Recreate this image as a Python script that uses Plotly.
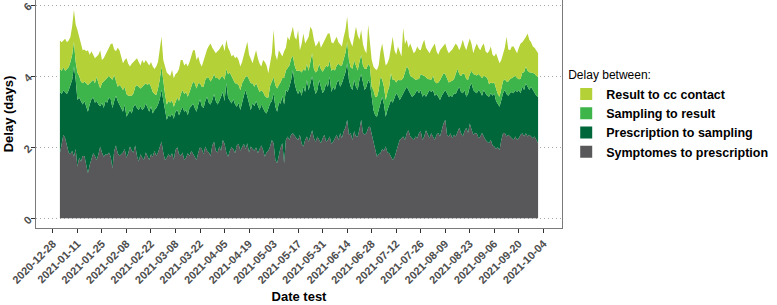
import pandas as pd
import plotly.graph_objects as go

# ---------------- data (daily means, 2021-01-01 .. 2021-10-01) ----------------
START_DATE = "2021-01-01"

symptomes_to_prescription = [
    1.83, 2.05, 2.35, 2.25, 2.00, 1.85, 1.80,
    1.90, 1.73, 1.95, 1.45, 1.70, 1.60, 1.75,
    1.75, 1.55, 1.27, 1.50, 1.70, 1.83, 1.75,
    1.64, 1.80, 2.02, 1.85, 1.73, 1.80, 1.78,
    1.85, 1.73, 1.40, 1.90, 2.05, 1.83, 1.75,
    1.80, 1.85, 1.95, 1.70, 1.83, 2.02, 1.90,
    1.85, 2.05, 1.75, 1.60, 1.80, 1.70, 1.65,
    1.85, 1.75, 1.64, 1.80, 1.73, 1.90, 1.75,
    1.85, 2.00, 2.15, 1.85, 1.64, 1.70, 1.80,
    1.73, 1.83, 1.65, 1.92, 2.00, 1.80, 1.75,
    1.85, 1.64, 1.70, 1.83, 1.75, 1.90, 1.80,
    1.70, 1.64, 1.85, 2.00, 1.95, 1.80, 2.02,
    1.90, 1.85, 1.75, 2.05, 2.15, 1.90, 1.85,
    2.02, 1.90, 2.20, 2.10, 1.85, 1.73, 1.90,
    2.00, 1.95, 1.83, 2.05, 2.10, 1.90, 2.02,
    2.10, 1.95, 2.11, 1.85, 2.02, 1.95, 1.90,
    2.00, 1.83, 1.95, 2.05, 1.92, 1.73, 1.85,
    1.90, 2.02, 2.20, 2.11, 1.64, 1.55, 1.80,
    2.00, 2.11, 1.55, 2.20, 2.30, 2.20, 2.35,
    2.39, 2.30, 2.25, 2.20, 2.35, 2.10, 2.02,
    2.20, 2.30, 2.15, 2.35, 2.48, 2.25, 2.15,
    2.30, 2.20, 2.11, 2.25, 2.35, 2.15, 2.20,
    2.30, 2.10, 2.15, 2.25, 2.35, 2.20, 2.39,
    2.25, 2.45, 2.55, 2.77, 2.35, 2.40, 2.20,
    2.45, 2.30, 2.30, 2.50, 2.77, 2.40, 2.35,
    2.40, 2.55, 2.58, 2.35, 2.11, 1.90, 1.73,
    1.80, 1.83, 1.95, 1.90, 2.02, 1.85, 1.83,
    1.75, 1.64, 1.70, 1.90, 2.05, 2.20, 2.25,
    2.30, 2.20, 2.39, 2.48, 2.30, 2.25, 2.20,
    2.30, 2.25, 2.39, 2.45, 2.20, 2.30, 2.48,
    2.35, 2.25, 2.39, 2.30, 2.20, 2.35, 2.40,
    2.30, 2.50, 2.67, 2.77, 2.35, 2.30, 2.39,
    2.25, 2.35, 2.30, 2.45, 2.55, 2.39, 2.30,
    2.45, 2.55, 2.40, 2.67, 2.50, 2.35, 2.39,
    2.39, 2.25, 2.30, 2.40, 2.30, 2.20, 2.15,
    2.11, 2.20, 2.05, 2.02, 1.95, 2.00, 1.92,
    2.20, 2.39, 2.40, 2.30, 2.35, 2.30, 2.25,
    2.20, 2.30, 2.20, 2.25, 2.35, 2.39, 2.30,
    2.39, 2.30, 2.35, 2.30, 2.25, 2.30, 2.20,
    2.11,
]

prescription_to_sampling = [
    1.72, 1.45, 1.25, 1.30, 1.50, 1.75, 1.95,
    2.00, 2.54, 1.95, 1.88, 1.70, 1.70, 1.45,
    1.55, 1.60, 1.73, 1.70, 1.65, 1.57, 1.50,
    1.66, 1.40, 1.13, 1.40, 1.37, 1.50, 1.47,
    1.55, 1.62, 1.70, 1.40, 1.40, 1.47, 1.45,
    1.30, 1.15, 1.25, 1.16, 1.12, 1.03, 1.05,
    1.29, 1.15, 1.35, 1.45, 1.35, 1.35, 1.45,
    1.38, 1.35, 1.36, 1.35, 1.22, 1.15, 1.35,
    1.35, 1.35, 1.46, 1.45, 1.36, 1.07, 1.10,
    1.13, 1.12, 1.15, 1.08, 1.05, 1.10, 1.30,
    1.29, 1.36, 1.35, 1.07, 1.35, 1.25, 1.43,
    1.40, 1.36, 1.35, 1.35, 1.20, 1.30, 1.28,
    1.52, 1.40, 1.45, 1.28, 1.35, 1.40, 1.35,
    1.28, 1.52, 1.35, 1.20, 1.95, 1.67, 1.40,
    1.23, 1.40, 1.37, 1.09, 1.15, 1.15, 1.28,
    1.35, 1.66, 1.29, 1.35, 1.03, 1.30, 1.25,
    1.30, 1.31, 1.10, 1.15, 1.18, 1.27, 1.10,
    1.20, 1.21, 1.10, 1.41, 1.50, 1.45, 1.45,
    1.23, 1.34, 1.65, 1.41, 1.25, 1.50, 1.54,
    1.78, 1.50, 1.35, 1.30, 1.26, 1.35, 1.68,
    1.35, 1.59, 1.45, 1.45, 1.52, 1.45, 1.35,
    1.31, 1.69, 1.59, 1.27, 1.26, 1.65, 1.50,
    1.68, 1.45, 1.55, 1.36, 1.45, 1.70, 1.31,
    1.55, 1.53, 1.55, 1.59, 1.55, 1.30, 1.41,
    1.44, 1.40, 1.31, 1.40, 1.28, 1.40, 1.26,
    1.30, 1.34, 1.22, 1.05, 0.94, 1.00, 1.13,
    1.25, 1.42, 1.47, 1.30, 0.84, 1.20, 1.37,
    1.58, 1.61, 1.70, 1.62, 1.40, 1.13, 1.17,
    1.20, 1.41, 1.31, 1.13, 1.20, 1.17, 1.25,
    1.25, 1.36, 1.13, 1.16, 1.22, 1.20, 0.94,
    1.17, 1.36, 1.16, 1.31, 1.25, 1.15, 1.02,
    1.03, 0.95, 0.85, 0.84, 1.17, 1.12, 1.06,
    1.17, 1.17, 1.20, 1.16, 1.15, 1.16, 1.22,
    1.16, 0.87, 1.10, 1.03, 1.30, 1.26, 1.16,
    1.13, 1.36, 1.25, 1.05, 1.31, 1.32, 1.30,
    1.31, 1.32, 1.40, 1.50, 1.35, 1.20, 1.22,
    1.13, 1.13, 1.21, 1.20, 1.10, 1.22, 1.30,
    1.32, 1.31, 1.35, 1.36, 1.17, 1.31, 1.31,
    1.41, 1.40, 1.26, 1.40, 1.36, 1.22, 1.25,
    1.31,
]

sampling_to_result = [
    0.65, 0.65, 0.65, 0.60, 0.70, 0.65, 0.65,
    0.70, 0.70, 0.50, 0.77, 0.60, 0.55, 0.60,
    0.55, 0.65, 0.75, 0.60, 0.50, 0.50, 0.55,
    0.68, 0.60, 0.51, 0.55, 0.75, 0.59, 0.70,
    0.60, 0.60, 0.80, 0.73, 0.40, 0.40, 0.55,
    0.60, 0.61, 0.50, 0.64, 0.50, 0.40, 0.50,
    0.38, 0.50, 0.65, 0.65, 0.50, 0.65, 0.65,
    0.57, 0.65, 0.80, 0.55, 0.60, 0.45, 0.37,
    0.45, 0.55, 0.66, 0.55, 0.50, 0.43, 0.40,
    0.39, 0.38, 0.34, 0.30, 0.35, 0.40, 0.45,
    0.47, 0.50, 0.50, 0.52, 0.45, 0.55, 0.62,
    0.70, 0.65, 0.60, 0.45, 0.55, 0.60, 0.60,
    0.55, 0.70, 0.65, 0.60, 0.55, 0.65, 0.75,
    0.60, 0.55, 0.45, 0.60, 0.40, 0.65, 0.80,
    0.75, 0.55, 0.60, 0.65, 0.50, 0.56, 0.50,
    0.45, 0.37, 0.60, 0.70, 0.75, 0.55, 0.55,
    0.50, 0.55, 0.50, 0.40, 0.45, 0.45, 0.45,
    0.30, 0.50, 0.55, 0.45, 0.60, 0.65, 0.50,
    0.60, 0.50, 0.75, 0.55, 0.70, 0.60, 0.60,
    0.40, 0.50, 0.55, 0.65, 0.55, 0.65, 0.50,
    0.60, 0.45, 0.55, 0.60, 0.65, 0.50, 0.60,
    0.55, 0.45, 0.50, 0.60, 0.60, 0.50, 0.55,
    0.45, 0.60, 0.50, 0.55, 0.50, 0.45, 0.60,
    0.50, 0.50, 0.55, 0.60, 0.55, 0.55, 0.60,
    0.55, 0.60, 0.55, 0.50, 0.55, 0.50, 0.60,
    0.50, 0.45, 0.47, 0.30, 0.56, 0.52, 0.56,
    0.55, 0.73, 0.48, 0.50, 0.47, 0.50, 0.50,
    0.75, 0.65, 0.50, 0.30, 0.45, 0.55, 0.47,
    0.45, 0.50, 0.57, 0.60, 0.50, 0.56, 0.50,
    0.35, 0.30, 0.40, 0.45, 0.60, 0.50, 0.55,
    0.40, 0.30, 0.35, 0.40, 0.40, 0.30, 0.40,
    0.55, 0.55, 0.56, 0.45, 0.40, 0.40, 0.40,
    0.45, 0.40, 0.55, 0.60, 0.35, 0.45, 0.55,
    0.45, 0.50, 0.40, 0.35, 0.35, 0.45, 0.50,
    0.50, 0.45, 0.45, 0.50, 0.40, 0.45, 0.50,
    0.35, 0.30, 0.35, 0.30, 0.35, 0.30, 0.28,
    0.30, 0.35, 0.30, 0.35, 0.40, 0.40, 0.40,
    0.45, 0.40, 0.40, 0.30, 0.40, 0.40, 0.50,
    0.47, 0.45, 0.50, 0.40, 0.47, 0.55, 0.55,
    0.56,
]

result_to_cc_contact = [
    0.80, 0.80, 0.75, 0.90, 0.75, 0.75, 0.70,
    0.80, 0.89, 1.05, 1.20, 1.10, 1.00, 0.93,
    0.90, 0.90, 0.98, 0.80, 0.85, 0.72, 0.70,
    0.57, 0.80, 1.07, 0.65, 0.65, 0.73, 0.75,
    0.80, 0.95, 1.02, 0.72, 0.85, 1.10, 0.98,
    0.80, 0.75, 0.75, 1.00, 0.90, 0.82, 0.90,
    0.88, 0.75, 0.75, 0.70, 0.65, 0.75, 0.61,
    0.65, 0.61, 0.50, 0.70, 0.72, 0.70, 0.80,
    0.75, 0.80, 0.84, 0.60, 0.80, 0.90, 0.75,
    0.75, 0.84, 0.80, 0.75, 0.70, 0.90, 0.95,
    0.84, 0.80, 0.81, 0.85, 0.85, 0.85, 0.88,
    0.93, 0.80, 0.75, 0.56, 0.57, 0.75, 0.74,
    0.78, 0.90, 1.07, 0.87, 0.68, 0.69, 0.75,
    0.85, 0.86, 0.90, 0.80, 0.82, 0.75, 0.60,
    0.57, 0.70, 0.70, 0.76, 0.70, 0.66, 0.60,
    0.70, 0.82, 0.97, 0.70, 0.65, 0.56, 0.85,
    0.93, 0.81, 0.80, 0.67, 0.90, 0.95, 0.90,
    0.68, 0.67, 0.79, 1.33, 0.86, 0.80, 0.98,
    0.81, 0.60, 0.75, 0.64, 0.86, 0.70, 0.71,
    0.82, 0.80, 0.87, 1.15, 0.57, 0.80, 1.00,
    0.77, 0.66, 0.95, 0.99, 0.65, 0.82, 0.73,
    0.74, 0.66, 0.60, 0.78, 0.81, 0.80, 0.95,
    0.77, 0.80, 0.72, 0.86, 0.81, 0.60, 0.60,
    0.53, 0.62, 0.65, 0.71, 0.66, 0.70, 0.62,
    0.66, 1.09, 0.99, 0.62, 0.70, 0.60, 0.52,
    0.44, 1.10, 0.63, 0.75, 0.66, 0.78, 0.75,
    0.70, 0.72, 1.02, 0.90, 0.97, 0.81, 0.80,
    0.72, 1.21, 0.83, 0.78, 0.93, 0.82, 0.66,
    1.40, 0.79, 0.75, 0.59, 0.92, 0.77, 0.69,
    0.80, 0.92, 0.83, 0.67, 0.88, 1.02, 0.83,
    0.78, 0.73, 0.85, 0.82, 1.07, 0.90, 0.78,
    0.85, 0.80, 0.77, 0.86, 0.83, 0.82, 0.85,
    0.88, 0.91, 0.87, 0.64, 0.68, 0.85, 0.95,
    0.79, 0.81, 1.00, 1.01, 0.75, 0.58, 0.75,
    0.90, 0.74, 0.73, 0.90, 0.91, 0.73, 0.69,
    0.93, 1.01, 0.80, 0.73, 0.99, 1.00, 0.94,
    0.82, 0.77, 0.89, 1.26, 0.90, 0.81, 0.88,
    0.86, 0.74, 0.69, 0.89, 1.00, 0.85, 0.91,
    0.83, 1.05, 0.91, 0.85, 0.75, 0.73, 0.73,
    0.66,
]

series_names = ["Symptomes to prescription", "Prescription to sampling",
                "Sampling to result", "Result to cc contact"]
series_values = [symptomes_to_prescription, prescription_to_sampling,
                 sampling_to_result, result_to_cc_contact]
series_colors = ["#58585A", "#00673A", "#3DB54A", "#B4D137"]

dates = pd.date_range(START_DATE, periods=len(symptomes_to_prescription), freq="D")

# ---------------- figure ----------------
FONT = "Liberation Sans, Arial, Helvetica, sans-serif"
fig = go.Figure()

for name, vals, col in zip(series_names, series_values, series_colors):
    fig.add_trace(go.Scatter(
        x=dates, y=vals, stackgroup="delay", mode="lines",
        line=dict(width=0, color=col), fillcolor=col,
        name=name, showlegend=False, hoverinfo="skip"))

# legend keys (square swatches), top item = top layer
for name, col in reversed(list(zip(series_names, series_colors))):
    fig.add_trace(go.Scatter(
        x=[None], y=[None], mode="markers", name=name,
        marker=dict(symbol="square", size=17, color=col),
        showlegend=True, hoverinfo="skip"))

fig.update_layout(
    width=777, height=305,
    margin=dict(l=36, r=215, t=0, b=77, autoexpand=False),
    plot_bgcolor="white", paper_bgcolor="white",
    font=dict(family=FONT, color="#000000"),
    showlegend=True,
    legend=dict(
        title=dict(text="Delay between:",
                   font=dict(size=12, family=FONT, color="#000000", weight="normal")),
        font=dict(size=12.5, family=FONT, color="#000000", weight="bold"),
        x=1.008, xanchor="left", y=0.72, yanchor="top",
        traceorder="normal", itemsizing="constant",
        bgcolor="rgba(0,0,0,0)", borderwidth=0, tracegroupgap=0),
    xaxis=dict(
        type="date", automargin=False,
        range=["2020-12-18 08:24", "2021-10-14 15:36"],
        tick0="2020-12-28", dtick=14 * 86400000,
        tickformat="%Y-%m-%d", tickangle=-45,
        ticks="outside", ticklen=4, tickcolor="#333333", tickwidth=1,
        tickfont=dict(size=11, color="#4D4D4D", family=FONT, weight="bold"),
        showgrid=False, zeroline=False,
        showline=True, mirror=True, linecolor="#7A7A7A", linewidth=1,
        title=dict(text="Date test", font=dict(size=13, family=FONT, weight="bold"),
                   standoff=7),
    ),
    yaxis=dict(
        automargin=False,
        range=[-0.273, 6.141],
        tickvals=[0, 2, 4, 6], ticktext=["0", "2", "4", "6"],
        tickangle=-45,
        ticks="outside", ticklen=4, tickcolor="#333333", tickwidth=1,
        tickfont=dict(size=11, color="#4D4D4D", family=FONT, weight="bold"),
        showgrid=True, gridcolor="#A8A8A8", gridwidth=1, griddash="1px,3px",
        zeroline=False,
        showline=True, mirror=True, linecolor="#7A7A7A", linewidth=1,
        title=dict(text="Delay (days)", font=dict(size=13, family=FONT, weight="bold"),
                   standoff=4),
    ),
)

fig.write_html(
    "out.html",
    config={"displayModeBar": False, "staticPlot": True},
    post_script="document.body.style.margin='0';document.body.style.overflow='hidden';",
)
